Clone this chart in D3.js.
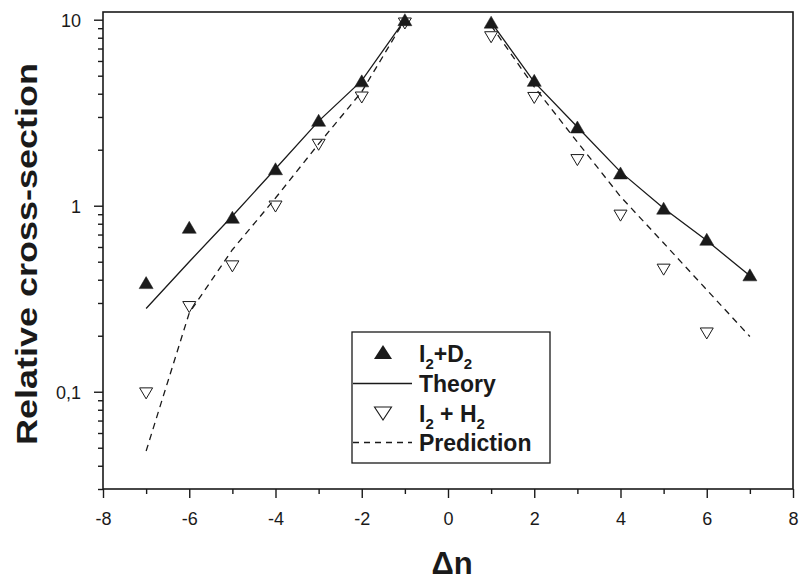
<!DOCTYPE html>
<html>
<head>
<meta charset="utf-8">
<script src="https://cdn.jsdelivr.net/npm/d3@7"></script>
<style>
  html, body { margin: 0; padding: 0; background: #fff; }
  svg { display: block; }
  text { font-family: "Liberation Sans", Arial, Helvetica, sans-serif; fill: #1a1a1a; }
</style>
</head>
<body>
<svg id="chart" width="799" height="580"></svg>
<script>
// ---- data ----
const nLeft  = [-7, -6, -5, -4, -3, -2, -1];
const nRight = [1, 2, 3, 4, 5, 6, 7];

const i2d2Left  = [0.386, 0.766, 0.867, 1.58, 2.88, 4.69, 10.0];
const i2d2Right = [9.7, 4.72, 2.65, 1.50, 0.97, 0.66, 0.425];

const i2h2Left  = [0.0986, 0.287, 0.475, 0.996, 2.14, 3.84, 9.6];
const i2h2RightN = [1, 2, 3, 4, 5, 6];
const i2h2Right = [8.1, 3.82, 1.77, 0.89, 0.456, 0.207];

const theoryLeft  = [0.28, 0.50, 0.88, 1.58, 2.85, 4.7, 10.0];
const theoryRight = [9.7, 4.62, 2.65, 1.52, 0.97, 0.65, 0.42];

const predLeft  = [0.048, 0.265, 0.58, 1.10, 2.15, 4.1, 10.0];
const predRight = [9.3, 4.35, 2.2, 1.12, 0.63, 0.353, 0.198];

const xMajorTicks = [-8, -6, -4, -2, 0, 2, 4, 6, 8];
const xMinorTicks = [-7, -5, -3, -1, 1, 3, 5, 7];
const yMajorTicks = [0.1, 1, 10];
const yMajorLabels = ["0,1", "1", "10"];
const yMinorTicks = [0.03, 0.04, 0.05, 0.06, 0.07, 0.08, 0.09,
                     0.2, 0.3, 0.4, 0.5, 0.6, 0.7, 0.8, 0.9,
                     2, 3, 4, 5, 6, 7, 8, 9];

const xLabel = "\u0394n";
const yLabel = "Relative cross-section";

// ---- layout ----
const L = 103, R = 793, T = 12, B = 489;
const ink = "#1a1a1a";
const svg = d3.select("#chart");

const x = d3.scaleLinear().domain([-8, 8]).range([L, R]);
const y = d3.scaleLog().domain([0.03, 11]).range([B, T]);

// x axis ticks
const gxMinor = svg.append("g").attr("transform", `translate(0,${B})`)
  .call(d3.axisBottom(x).tickValues(xMinorTicks).tickSize(5).tickFormat(""));
const gx = svg.append("g").attr("transform", `translate(0,${B})`)
  .call(d3.axisBottom(x).tickValues(xMajorTicks).tickSize(9).tickFormat(d3.format("d")));
[gxMinor, gx].forEach(g => {
  g.select(".domain").remove();
  g.selectAll("line").attr("stroke", ink).attr("stroke-width", 1.4);
});
gx.selectAll("text").attr("y", 36).attr("dy", 0)
  .attr("font-size", 18).attr("fill", ink)
  .style("font-family", '"Liberation Sans", Arial, sans-serif')
  .text(d => d < 0 ? "-" + Math.abs(d) : String(d));

// y axis ticks
const gyMinor = svg.append("g").attr("transform", `translate(${L},0)`)
  .call(d3.axisLeft(y).tickValues(yMinorTicks).tickSize(5).tickFormat(""));
const gy = svg.append("g").attr("transform", `translate(${L},0)`)
  .call(d3.axisLeft(y).tickValues(yMajorTicks).tickSize(9)
        .tickFormat((d, i) => yMajorLabels[i]));
[gyMinor, gy].forEach(g => {
  g.select(".domain").remove();
  g.selectAll("line").attr("stroke", ink).attr("stroke-width", 1.4);
});
gy.selectAll("text").attr("x", -22).attr("dy", "0.36em")
  .attr("font-size", 18).attr("fill", ink)
  .style("font-family", '"Liberation Sans", Arial, sans-serif');

// frame
svg.append("rect").attr("x", L).attr("y", T).attr("width", R - L).attr("height", B - T)
  .attr("fill", "none").attr("stroke", ink).attr("stroke-width", 1.6);

// lines
const line = d3.line().x(d => x(d[0])).y(d => y(d[1]));
function drawLine(ns, vals, dashed) {
  svg.append("path").datum(ns.map((n, i) => [n, vals[i]]))
    .attr("d", line).attr("fill", "none").attr("stroke", ink)
    .attr("stroke-width", 1.3)
    .attr("stroke-dasharray", dashed ? "6.5,5" : null);
}
drawLine(nLeft, theoryLeft, false);
drawLine(nRight, theoryRight, false);
drawLine(nLeft, predLeft, true);
drawLine(nRight, predRight, true);

// markers
const upTri = "M0,-6L7,6L-7,6Z";
const downTri = "M-6.5,-5L6.5,-5L0,6Z";
function drawMarkers(ns, vals, filled) {
  svg.append("g").selectAll("path").data(ns.map((n, i) => [n, vals[i]])).join("path")
    .attr("transform", d => `translate(${x(d[0])},${y(d[1])})`)
    .attr("d", filled ? upTri : downTri)
    .attr("fill", filled ? ink : "#fff")
    .attr("fill-opacity", filled ? 1 : 0)
    .attr("stroke", ink).attr("stroke-width", filled ? 0.5 : 1);
}
drawMarkers(nLeft, i2h2Left, false);
drawMarkers(i2h2RightN, i2h2Right, false);
drawMarkers(nLeft, i2d2Left, true);
drawMarkers(nRight, i2d2Right, true);

// legend
const lg = svg.append("g");
lg.append("rect").attr("x", 352).attr("y", 332).attr("width", 198).attr("height", 131)
  .attr("fill", "#fff").attr("stroke", ink).attr("stroke-width", 1.3);
lg.append("path").attr("transform", "translate(383,352)")
  .attr("d", "M0,-7L9,7L-9,7Z").attr("fill", ink);
lg.append("line").attr("x1", 353).attr("x2", 412).attr("y1", 383.5).attr("y2", 383.5)
  .attr("stroke", ink).attr("stroke-width", 1.3);
lg.append("path").attr("transform", "translate(383,413)")
  .attr("d", "M-8.5,-6L8.5,-6L0,7Z").attr("fill", "none").attr("stroke", ink).attr("stroke-width", 1.1);
lg.append("line").attr("x1", 353).attr("x2", 412).attr("y1", 442.5).attr("y2", 442.5)
  .attr("stroke", ink).attr("stroke-width", 1.3).attr("stroke-dasharray", "6,5");

function legendText(yb, parts) {
  const t = lg.append("text").attr("x", 419).attr("y", yb)
    .attr("font-size", 23).attr("font-weight", "bold");
  parts.forEach(p => {
    const s = t.append("tspan").text(p.t);
    if (p.sub) s.attr("font-size", 15).attr("dy", 7);
    if (p.up) s.attr("dy", -7);
  });
}
legendText(362, [{t: "I"}, {t: "2", sub: true}, {t: "+D", up: true}, {t: "2", sub: true}]);
legendText(392, [{t: "Theory"}]);
legendText(422, [{t: "I"}, {t: "2", sub: true}, {t: " + H", up: true}, {t: "2", sub: true}]);
legendText(451, [{t: "Prediction"}]);
lg.selectAll("text").style("white-space", "pre");

// axis titles
svg.append("text").attr("x", 452).attr("y", 574).attr("text-anchor", "middle")
  .attr("font-size", 31).attr("font-weight", "bold").text(xLabel);
svg.append("text").attr("transform", "translate(37,254) rotate(-90)")
  .attr("text-anchor", "middle").attr("font-size", 29).attr("font-weight", "bold")
  .attr("textLength", 382).attr("lengthAdjust", "spacingAndGlyphs")
  .text(yLabel);
</script>
</body>
</html>
